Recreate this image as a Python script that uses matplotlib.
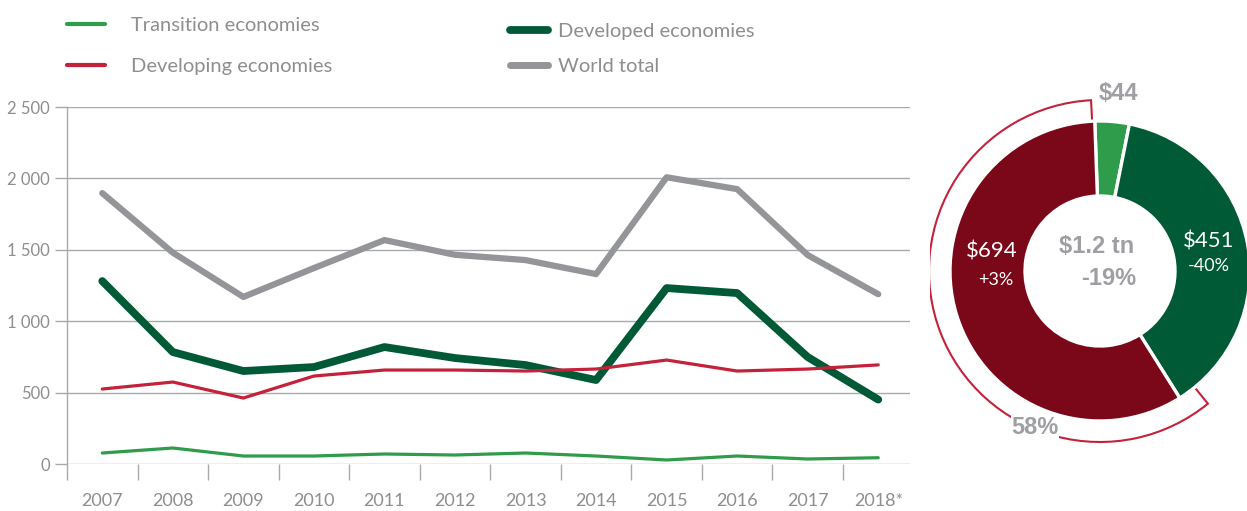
import numpy as np
import matplotlib
matplotlib.use("Agg")
import matplotlib.pyplot as plt
from matplotlib.patches import Wedge

plt.rcParams['font.family'] = ['Lato', 'DejaVu Sans']

# data (bn $)
years = ['2007', '2008', '2009', '2010', '2011', '2012', '2013', '2014',
         '2015', '2016', '2017', '2018*']
world = [1897, 1480, 1170, 1372, 1568, 1465, 1428, 1330, 2008, 1925, 1463, 1189]
developed = [1281, 784, 651, 679, 819, 742, 693, 588, 1232, 1197, 749, 451]
developing = [525, 574, 462, 616, 658, 658, 651, 665, 728, 651, 665, 694]
transition = [77, 112, 56, 56, 70, 63, 77, 56, 28, 56, 35, 44]

# 2018 split for the donut
donut_vals = [44, 451, 694]
donut_growth = ['', '-40%', '+3%']
total_label = '$1.2 tn'
total_growth = '-19%'
dev_share = '58%'

c_trans = '#2e9c4a'
c_devg = '#c4213a'
c_devd = '#005a36'
c_world = '#939598'
c_maroon = '#7a0818'
c_text = '#8c8e90'
c_bold = '#9d9fa2'
c_grid = '#a7a9ac'
bold_font = ['Liberation Sans', 'DejaVu Sans']

W, H = 1247, 511
fig = plt.figure(figsize=(W / 100, H / 100), dpi=100)

ax = fig.add_axes([67 / W, 47 / H, 843 / W, 357 / H])
x = np.arange(len(years))

l_world, = ax.plot(x, world, color=c_world, lw=4.5, solid_capstyle='round',
                   solid_joinstyle='round', label='World total', zorder=3)
l_devd, = ax.plot(x, developed, color=c_devd, lw=5.6, solid_capstyle='round',
                  solid_joinstyle='round', label='Developed economies', zorder=4)
l_devg, = ax.plot(x, developing, color=c_devg, lw=2.3, solid_capstyle='round',
                  label='Developing economies', zorder=5)
l_trans, = ax.plot(x, transition, color=c_trans, lw=2.3, solid_capstyle='round',
                   label='Transition economies', zorder=5)

ax.set_xlim(-0.5, 11.45)
ax.set_ylim(0, 2500)
ax.set_yticks([0, 500, 1000, 1500, 2000, 2500])
ax.set_yticklabels(['0', '500', '1 000', '1 500', '2 000', '2 500'])
ax.set_xticks(x)
ax.set_xticklabels(years)
ax.set_xticks(np.arange(-0.5, 11.0, 1.0), minor=True)
ax.grid(axis='y', color=c_grid, lw=1.0)
ax.set_axisbelow(True)
for s in ['top', 'right', 'bottom']:
    ax.spines[s].set_visible(False)
ax.spines['left'].set_color(c_grid)
ax.spines['left'].set_linewidth(1.0)
ax.tick_params(axis='y', length=8.6, width=1.0, color=c_grid, pad=3.5,
               labelsize=12, labelcolor=c_text)
ax.tick_params(axis='x', which='major', length=0, pad=21,
               labelsize=13, labelcolor=c_text)
ax.tick_params(axis='x', which='minor', length=11.5, width=1.0, color=c_grid)

# legends
leg1 = fig.legend(handles=[l_trans, l_devg], loc='upper left',
                  bbox_to_anchor=(67 / W, 1 - 17 / H), frameon=False,
                  borderpad=0, borderaxespad=0, handlelength=1.9,
                  handletextpad=1.3, labelspacing=1.2, fontsize=14.5,
                  labelcolor=c_text)
leg2 = fig.legend(handles=[l_devd, l_world], loc='upper left',
                  bbox_to_anchor=(510 / W, 1 - 23 / H), frameon=False,
                  borderpad=0, borderaxespad=0, handlelength=1.9,
                  handletextpad=0.5, labelspacing=0.9, fontsize=14.5,
                  labelcolor=c_text)
for h in leg1.get_lines():
    h.set_linewidth(3.0)
for h, w in zip(leg2.get_lines(), [5.6, 5.0]):
    h.set_linewidth(w)

# donut (pixel coordinates, y up)
ax2 = fig.add_axes([930 / W, 0, 317 / W, 1])
cx, cy = 1100, H - 271
r_out, r_in = 150, 75
wedges, _ = ax2.pie(donut_vals, colors=[c_trans, c_devd, c_maroon],
                    startangle=92, counterclock=False, radius=r_out,
                    center=(cx, cy),
                    wedgeprops=dict(width=r_out - r_in, edgecolor='white',
                                    linewidth=2.4))
red = wedges[2]
# red.theta1 is the top end, red.theta2 the lower right end
outline = Wedge((cx, cy), 171, red.theta1 + 1, red.theta2 + 7, width=21,
                fill=False, edgecolor=c_devg, linewidth=1.5, zorder=0)
ax2.add_patch(outline)
ax2.set_xlim(930, 1247)
ax2.set_ylim(0, H)
ax2.set_aspect('equal')
ax2.axis('off')

ax2.text(1118, H - 93, '$' + str(donut_vals[0]), ha='center', va='center',
         fontsize=17, fontweight='bold', color=c_bold, family=bold_font)
ax2.text(1209, H - 241, '$' + str(donut_vals[1]), ha='center', va='center',
         fontsize=16, color='white')
ax2.text(1209, H - 266, donut_growth[1], ha='center', va='center',
         fontsize=13, color='white')
ax2.text(992, H - 251, '$' + str(donut_vals[2]), ha='center', va='center',
         fontsize=16, color='white')
ax2.text(996, H - 280, donut_growth[2], ha='center', va='center',
         fontsize=13, color='white')
ax2.text(1097, H - 246, total_label, ha='center', va='center',
         fontsize=17, fontweight='bold', color=c_bold, family=bold_font)
ax2.text(1109, H - 278, total_growth, ha='center', va='center',
         fontsize=17, fontweight='bold', color=c_bold, family=bold_font)
ax2.text(1035, H - 427, dev_share, ha='center', va='center',
         fontsize=17, fontweight='bold', color=c_bold, family=bold_font,
         bbox=dict(facecolor='white', edgecolor='none', pad=0.5))

fig.savefig('out.png', dpi=100)
